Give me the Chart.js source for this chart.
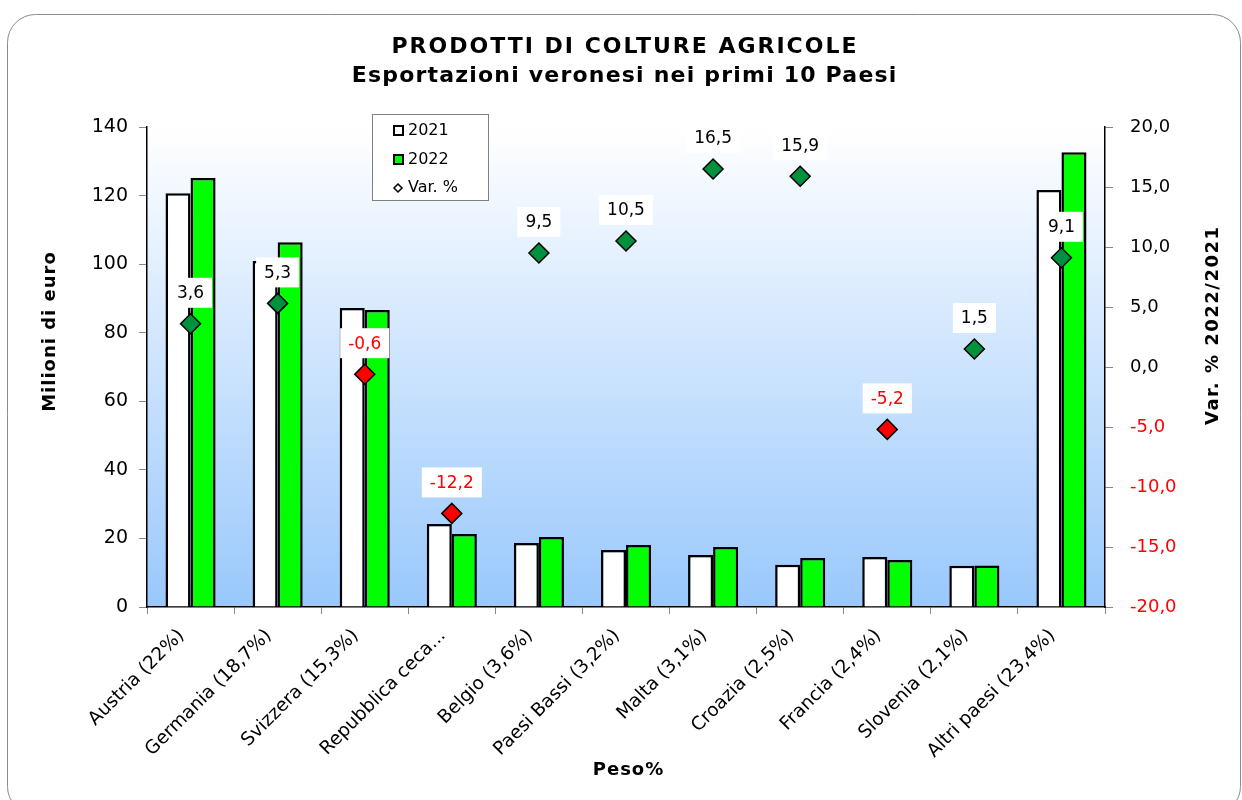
<!DOCTYPE html>
<html>
<head>
<meta charset="utf-8">
<script src="https://cdn.jsdelivr.net/npm/chart.js@4"></script>
<style>
  html, body { margin: 0; padding: 0; background: #fff; }
  #wrap { width: 1242px; height: 800px; }
</style>
</head>
<body>
<div id="wrap"><canvas id="myChart"></canvas></div>
<script>
const categories = [
  'Austria (22%)', 'Germania (18,7%)', 'Svizzera (15,3%)', 'Repubblica ceca...',
  'Belgio (3,6%)', 'Paesi Bassi (3,2%)', 'Malta (3,1%)', 'Croazia (2,5%)',
  'Francia (2,4%)', 'Slovenia (2,1%)', 'Altri paesi (23,4%)'
]
const values2021 = [120.7, 100.9, 87.2, 24.2, 18.7, 16.6, 15.2, 12.3, 14.6, 12.0, 121.6]
const values2022 = [125.1, 106.4, 86.6, 21.3, 20.4, 18.1, 17.5, 14.3, 13.7, 12.1, 132.6]
const varPct = [3.6, 5.3, -0.6, -12.2, 9.5, 10.5, 16.5, 15.9, -5.2, 1.5, 9.1]

const FONT = 'DejaVu Sans'
const fmt = v => v.toFixed(1).replace('.', ',')

;(() => {
  'use strict'

  const boldText = (ctx, txt, x, y, size, spacing, rot) => {
    ctx.save()
    ctx.translate(x, y)
    if (rot) ctx.rotate(rot)
    ctx.font = 'bold ' + size + 'px ' + FONT
    ctx.letterSpacing = spacing + 'px'
    ctx.fillStyle = '#000'
    ctx.textAlign = 'center'
    ctx.textBaseline = 'middle'
    ctx.fillText(txt, spacing / 2, 0)
    ctx.restore()
  }

  // frame, gradient behind the plot, titles
  const background = {
    id: 'background',
    beforeDraw (chart) {
      const { ctx, chartArea: a } = chart
      ctx.save()
      ctx.fillStyle = '#fff'
      ctx.fillRect(0, 0, chart.width, chart.height)
      ctx.beginPath()
      ctx.roundRect(7.5, 14.5, 1233, 800, 28)
      ctx.strokeStyle = '#8c8c8c'
      ctx.lineWidth = 1
      ctx.stroke()
      const g = ctx.createLinearGradient(0, a.top, 0, a.bottom)
      g.addColorStop(0, '#ffffff')
      g.addColorStop(1, '#99c8fc')
      ctx.fillStyle = g
      ctx.fillRect(a.left, a.top, a.right - a.left, a.bottom - a.top)
      ctx.restore()

      boldText(ctx, 'PRODOTTI DI COLTURE AGRICOLE', 624, 47, 22, 2)
      boldText(ctx, 'Esportazioni veronesi nei primi 10 Paesi', 624, 76, 22, 1.2)
      boldText(ctx, 'Peso%', 628, 770, 18, 1)
      boldText(ctx, 'Milioni di euro', 50, 332, 18, 1, -Math.PI / 2)
      boldText(ctx, 'Var. % 2022/2021', 1213, 326, 18, 1.5, -Math.PI / 2)
    }
  }

  // value boxes above the diamonds + legend
  const labels = {
    id: 'labels',
    afterDatasetsDraw (chart) {
      const { ctx } = chart
      const meta = chart.getDatasetMeta(2)
      ctx.save()
      ctx.font = '17px ' + FONT
      ctx.textAlign = 'center'
      ctx.textBaseline = 'middle'
      meta.data.forEach((pt, i) => {
        const v = varPct[i]
        const txt = fmt(v)
        const w = ctx.measureText(txt).width + 16
        const cy = pt.y - 31
        ctx.fillStyle = '#fff'
        ctx.fillRect(pt.x - w / 2, cy - 15, w, 30)
        ctx.fillStyle = v < 0 ? '#ff0000' : '#000'
        ctx.fillText(txt, pt.x, cy + 1)
      })

      // legend
      ctx.font = '16px ' + FONT
      const lx = 372.5
      const ly = 114.5
      ctx.fillStyle = '#fff'
      ctx.fillRect(lx, ly, 116, 86)
      ctx.strokeStyle = '#808080'
      ctx.lineWidth = 1
      ctx.strokeRect(lx, ly, 116, 86)
      ctx.textAlign = 'left'
      const ds = chart.data.datasets
      ;[0, 1].forEach(k => {
        const y = 131 + k * 29
        ctx.fillStyle = ds[k].backgroundColor
        ctx.fillRect(394, y - 5, 9, 9)
        ctx.strokeStyle = '#000'
        ctx.lineWidth = 2
        ctx.strokeRect(394, y - 5, 9, 9)
        ctx.fillStyle = '#000'
        ctx.fillText(ds[k].label, 408, y)
      })
      ctx.beginPath()
      ctx.moveTo(398, 184)
      ctx.lineTo(402, 188)
      ctx.lineTo(398, 192)
      ctx.lineTo(394, 188)
      ctx.closePath()
      ctx.fillStyle = '#fff'
      ctx.fill()
      ctx.lineWidth = 1.5
      ctx.stroke()
      ctx.fillStyle = '#000'
      ctx.fillText(ds[2].label, 408, 188)
      ctx.restore()
    }
  }

  const ctx = document.getElementById('myChart')
  // eslint-disable-next-line no-unused-vars
  const myChart = new Chart(ctx, {
    data: {
      labels: categories,
      datasets: [{
        type: 'bar',
        label: '2021',
        data: values2021,
        backgroundColor: '#ffffff',
        borderColor: '#000',
        borderWidth: 2.5,
        yAxisID: 'y',
        order: 1
      }, {
        type: 'bar',
        label: '2022',
        data: values2022,
        backgroundColor: '#00ff00',
        borderColor: '#000',
        borderWidth: 2.5,
        yAxisID: 'y',
        order: 1
      }, {
        type: 'line',
        label: 'Var. %',
        data: varPct,
        showLine: false,
        pointStyle: 'rectRot',
        pointRadius: 10,
        pointHoverRadius: 10,
        pointBorderWidth: 1.5,
        pointBorderColor: '#000',
        pointBackgroundColor: varPct.map(v => v < 0 ? '#ff0000' : '#00913f'),
        yAxisID: 'y1',
        order: 0
      }]
    },
    options: {
      responsive: true,
      maintainAspectRatio: false,
      animation: false,
      categoryPercentage: 0.575,
      barPercentage: 1,
      layout: { padding: { top: 127, left: 20, right: 10, bottom: 0 } },
      scales: {
        x: {
          afterFit: s => { s.height = 193 },
          grid: { drawOnChartArea: false, tickLength: 7, color: '#888' },
          border: { color: '#000', width: 1.5 },
          ticks: {
            color: '#000',
            font: { family: FONT, size: 18.5 },
            maxRotation: 45,
            minRotation: 45,
            autoSkip: false,
            padding: 11,
            labelOffset: -9
          }
        },
        y: {
          position: 'left',
          min: 0,
          max: 140,
          afterFit: s => { s.width = 127 },
          grid: { drawOnChartArea: false, tickLength: 8, color: '#888' },
          border: { color: '#000', width: 1.5 },
          ticks: {
            stepSize: 20,
            color: '#000',
            font: { family: FONT, size: 19 },
            padding: 11
          }
        },
        y1: {
          position: 'right',
          min: -20,
          max: 20,
          afterFit: s => { s.width = 127 },
          grid: { drawOnChartArea: false, tickLength: 8, color: '#888' },
          border: { color: '#000', width: 1.5 },
          ticks: {
            stepSize: 5,
            color: c => c.tick.value < 0 ? '#ff0000' : '#000',
            font: { family: FONT, size: 18 },
            padding: 17,
            callback: v => fmt(v)
          }
        }
      },
      plugins: {
        legend: { display: false },
        title: { display: false },
        tooltip: { enabled: false }
      }
    },
    plugins: [background, labels]
  })
})()
</script>
</body>
</html>
